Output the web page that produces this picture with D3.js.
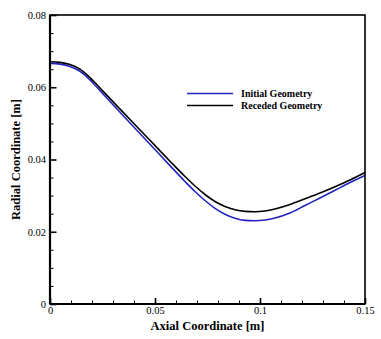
<!DOCTYPE html>
<html><head><meta charset="utf-8">
<script src="https://cdn.jsdelivr.net/npm/d3@7"></script>
<style>body{margin:0;background:#fff}svg{display:block}</style>
</head><body>
<script>
// Data
const axialX = [0, 0.00476, 0.00952, 0.01429, 0.01905, 0.02381, 0.02857, 0.03810, 0.04762, 0.05714, 0.06429, 0.06905, 0.07381, 0.07857, 0.08333, 0.08810, 0.09286, 0.09762, 0.10238, 0.10714, 0.11429, 0.12143, 0.12857, 0.13571, 0.14286, 0.15];
const initialR = [0.06660, 0.06641, 0.06577, 0.06444, 0.06206, 0.05907, 0.05606, 0.05010, 0.04421, 0.03831, 0.03391, 0.03114, 0.02865, 0.02649, 0.02486, 0.02372, 0.02314, 0.02303, 0.02325, 0.02381, 0.02519, 0.02727, 0.02934, 0.03147, 0.03361, 0.03557];
const recededR = [0.06707, 0.06688, 0.06627, 0.06500, 0.06267, 0.05979, 0.05686, 0.05107, 0.04531, 0.03953, 0.03529, 0.03266, 0.03031, 0.02837, 0.02699, 0.02608, 0.02563, 0.02552, 0.02574, 0.02630, 0.02754, 0.02912, 0.03073, 0.03247, 0.03433, 0.03640];
const seriesNames = ["Initial Geometry", "Receded Geometry"];
const xTicks = [0, 0.05, 0.1, 0.15];
const xTickLabels = ["0", "0.05", "0.1", "0.15"];
const yTicks = [0, 0.02, 0.04, 0.06, 0.08];
const yTickLabels = ["0", "0.02", "0.04", "0.06", "0.08"];
const xMinor = [0.01,0.02,0.03,0.04,0.06,0.07,0.08,0.09,0.11,0.12,0.13,0.14];
const yMinor = [0.005,0.01,0.015,0.025,0.03,0.035,0.045,0.05,0.055,0.065,0.07,0.075];

const W = 381, H = 339;
const m = {left: 50, right: 16, top: 15, bottom: 35};
const colors = ["#2323c0", "#000000"];
const font = "'Liberation Serif','Times New Roman',serif";

const svg = d3.select("body").append("svg").attr("width", W).attr("height", H);
const x = d3.scaleLinear().domain([0, 0.15]).range([m.left, W - m.right]);
const y = d3.scaleLinear().domain([0, 0.08]).range([H - m.bottom, m.top]);

// curves
const series = [initialR, recededR];
const line = d3.line().x(d => x(d[0])).y(d => y(d[1])).curve(d3.curveMonotoneX);
series.forEach((s, i) => {
  svg.append("path")
    .datum(axialX.map((v, j) => [v, s[j]]))
    .attr("fill", "none").attr("stroke", colors[i]).attr("stroke-width", 1.6)
    .attr("d", line);
});

// frame
svg.append("rect").attr("x", x(0)).attr("y", y(0.08))
  .attr("width", x(0.15) - x(0)).attr("height", y(0) - y(0.08))
  .attr("fill", "none").attr("stroke", "#000").attr("stroke-width", 1.6);
svg.append("line").attr("x1", x(0)).attr("x2", x(0)).attr("y1", y(0)).attr("y2", y(0.08))
  .attr("stroke", "#000").attr("stroke-width", 2.2);
svg.append("line").attr("x1", x(0)).attr("x2", x(0.15)).attr("y1", y(0)).attr("y2", y(0))
  .attr("stroke", "#000").attr("stroke-width", 2.2);

// x axis
const xAxis = d3.axisBottom(x).tickValues(xTicks).tickFormat((d, i) => xTickLabels[i]).tickSizeInner(-6).tickSizeOuter(0).tickPadding(3);
const gx = svg.append("g").attr("transform", `translate(0,${y(0)})`).call(xAxis);
gx.select(".domain").remove();
gx.selectAll(".tick line").attr("stroke-width", 1.6);
gx.selectAll("text").attr("font-family", font).attr("font-size", 10.5).attr("fill", "#000");
const gxm = svg.append("g").attr("transform", `translate(0,${y(0)})`).call(d3.axisBottom(x).tickValues(xMinor).tickSize(-3.5).tickFormat(""));
gxm.select(".domain").remove();
gxm.selectAll(".tick line").attr("stroke-width", 1);

// y axis
const yAxis = d3.axisLeft(y).tickValues(yTicks).tickFormat((d, i) => yTickLabels[i]).tickSizeInner(-6.5).tickSizeOuter(0).tickPadding(4);
const gy = svg.append("g").attr("transform", `translate(${x(0)},0)`).call(yAxis);
gy.select(".domain").remove();
gy.selectAll(".tick line").attr("stroke-width", 1.6);
gy.selectAll("text").attr("font-family", font).attr("font-size", 10.5).attr("fill", "#000");
const gym = svg.append("g").attr("transform", `translate(${x(0)},0)`).call(d3.axisLeft(y).tickValues(yMinor).tickSize(-3.5).tickFormat(""));
gym.select(".domain").remove();
gym.selectAll(".tick line").attr("stroke-width", 1);

// titles
svg.append("text").attr("x", (x(0) + x(0.15)) / 2).attr("y", 330)
  .attr("text-anchor", "middle").attr("font-family", font).attr("font-weight", "bold")
  .attr("font-size", 12.5).text("Axial Coordinate [m]");
svg.append("text").attr("transform", `translate(20,${(y(0) + y(0.08)) / 2}) rotate(-90)`)
  .attr("text-anchor", "middle").attr("font-family", font).attr("font-weight", "bold")
  .attr("font-size", 12.5).text("Radial Coordinate [m]");

// legend
const lg = svg.append("g");
seriesNames.forEach((n, i) => {
  const ly = 93.5 + i * 12;
  lg.append("line").attr("x1", 187).attr("x2", 233).attr("y1", ly).attr("y2", ly)
    .attr("stroke", colors[i]).attr("stroke-width", 1.6);
  lg.append("text").attr("x", 241).attr("y", ly + 3.4).attr("font-family", font)
    .attr("font-weight", "bold").attr("font-size", 10).text(n);
});
</script>
</body></html>
